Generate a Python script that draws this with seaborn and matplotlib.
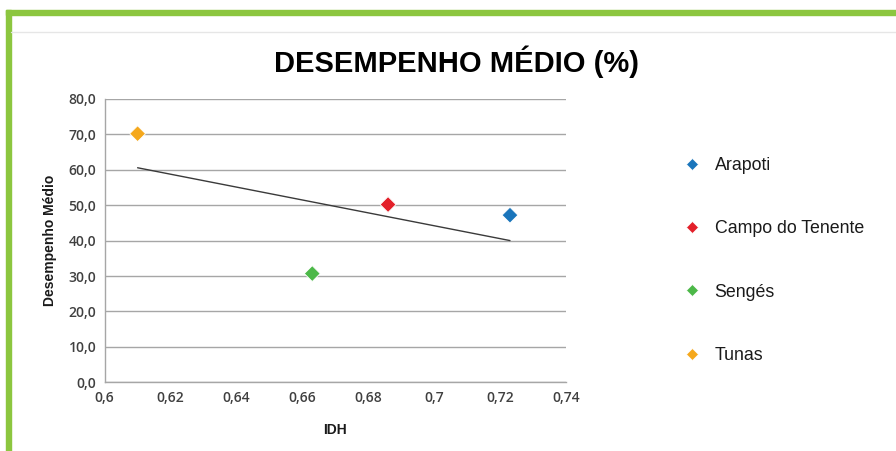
import numpy as np
import pandas as pd
import seaborn as sns
import matplotlib
matplotlib.use("Agg")
import matplotlib.pyplot as plt
from matplotlib.ticker import FuncFormatter, MultipleLocator
from matplotlib.lines import Line2D
from matplotlib.patches import Rectangle

municipios = ["Arapoti", "Campo do Tenente", "Sengés", "Tunas"]
idh = [0.723, 0.686, 0.663, 0.610]
desempenho = [47.2, 50.2, 30.7, 70.2]
cores = ["#1a75bb", "#e3202a", "#4cb848", "#f5a81c"]

sns.set_theme(style="white")
plt.rcParams["font.family"] = ["Liberation Sans", "DejaVu Sans"]

df = pd.DataFrame({"IDH": idh, "Desempenho": desempenho, "Municipio": municipios})

fig = plt.figure(figsize=(8.96, 4.51), dpi=100)
ax = fig.add_axes([0.1168, 0.1523, 0.5149, 0.6282])

sns.scatterplot(data=df, x="IDH", y="Desempenho", hue="Municipio",
                hue_order=municipios, palette=cores, marker="D", s=65,
                edgecolor="white", linewidth=0.6, ax=ax, legend=False, zorder=3)

# linear trendline
coef = np.polyfit(idh, desempenho, 1)
xs = np.array([min(idh), max(idh)])
sns.lineplot(x=xs, y=np.polyval(coef, xs), color="#3a3a3a", linewidth=1.0, ax=ax, zorder=2)

ax.set_xlim(0.6, 0.74)
ax.set_ylim(0, 80)
ax.xaxis.set_major_locator(MultipleLocator(0.02))
ax.yaxis.set_major_locator(MultipleLocator(10))
ax.xaxis.set_major_formatter(FuncFormatter(lambda v, p: f"{round(v, 2):g}".replace(".", ",")))
ax.yaxis.set_major_formatter(FuncFormatter(lambda v, p: f"{v:.1f}".replace(".", ",")))
ax.grid(axis="y", color="#a6a6a6", linewidth=1.0)
ax.grid(axis="x", visible=False)
for s in ["top", "right"]:
    ax.spines[s].set_visible(False)
for s in ["left", "bottom"]:
    ax.spines[s].set_color("#a6a6a6")
    ax.spines[s].set_linewidth(1.0)
ax.tick_params(axis="both", labelsize=10, colors="#404040", length=0, pad=6)
for lab in ax.get_xticklabels() + ax.get_yticklabels():
    lab.set_fontfamily(["Open Sans", "DejaVu Sans"])
    lab.set_fontweight("semibold")
ax.set_xlabel("IDH", fontsize=10, fontweight="bold", color="#1a1a1a", labelpad=13)
ax.set_ylabel("Desempenho Médio", fontsize=10, fontweight="bold", color="#1a1a1a", labelpad=8)

fig.text(0.51, 0.862, "DESEMPENHO MÉDIO (%)", ha="center", va="center",
         fontsize=21, fontweight="bold", color="#000000")

handles = [Line2D([0], [0], marker="D", linestyle="none", markersize=6,
                  markerfacecolor=c, markeredgecolor="white", markeredgewidth=0.5)
           for c in cores]
fig.legend(handles, municipios, loc="upper left", bbox_to_anchor=(0.744, 0.687),
           frameon=False, fontsize=12.8, labelspacing=2.6, handletextpad=0.8,
           handlelength=1.0, labelcolor="#1a1a1a")

# decorative frame
fig.patches.append(Rectangle((6 / 896, 1 - 15 / 451), 890 / 896, 5 / 451,
                             transform=fig.transFigure, color="#8cc63f", zorder=0))
fig.patches.append(Rectangle((6 / 896, 0), 5 / 896, 1 - 10 / 451,
                             transform=fig.transFigure, color="#8cc63f", zorder=0))
fig.lines.append(Line2D([11 / 896, 1], [1 - 32 / 451, 1 - 32 / 451],
                        transform=fig.transFigure, color="#e6e6e6", linewidth=1.0))

fig.savefig("out.png", dpi=100, facecolor="white")
